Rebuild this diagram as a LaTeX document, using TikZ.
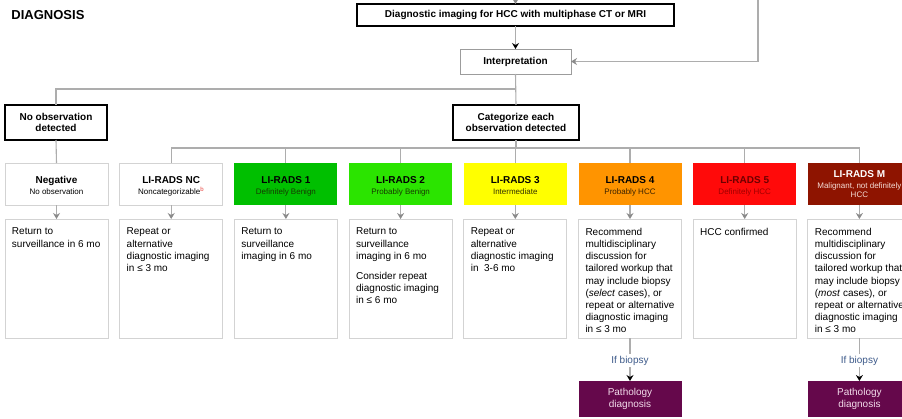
\documentclass[tikz,border=0pt]{standalone}
\usepackage{fontspec}
\setmainfont{Liberation Sans}
\usetikzlibrary{arrows.meta}

\definecolor{connector}{HTML}{ADADAD}
\definecolor{tipgray}{HTML}{8A8A8A}
\definecolor{boxgray}{HTML}{D3D3D3}
\definecolor{interpgray}{HTML}{9C9C9C}
\definecolor{lrone}{HTML}{00BF00}
\definecolor{lrtwo}{HTML}{2BE400}
\definecolor{lrthree}{HTML}{FFFF00}
\definecolor{lrfour}{HTML}{FF9400}
\definecolor{lrfive}{HTML}{FF0A0A}
\definecolor{lrm}{HTML}{8E1400}
\definecolor{patho}{HTML}{65084B}
\definecolor{pathotext}{HTML}{F3DCEB}
\definecolor{biopsyblue}{HTML}{3D5A8A}
\definecolor{fivetitle}{HTML}{6E0000}
\definecolor{fivesub}{HTML}{A00000}
\definecolor{notered}{HTML}{E8413C}
\definecolor{greensub}{HTML}{163A00}
\definecolor{yellowsub}{HTML}{333300}
\definecolor{orangesub}{HTML}{3A2200}
\definecolor{msub}{HTML}{F5DDD6}

\tikzset{
  every node/.style={inner sep=0pt, outer sep=0pt},
  keybox/.style={draw=black, line width=1.6pt, fill=white, align=center,
    anchor=north west, font=\bfseries\fontsize{10}{11.7}\selectfont},
  graybox/.style={draw=boxgray, line width=0.9pt, fill=white},
  catbox/.style={minimum width=103pt, minimum height=42pt, anchor=north west},
  resultbox/.style={graybox, minimum width=103pt, minimum height=119pt, anchor=north west},
  ttl/.style={anchor=base, font=\bfseries\fontsize{10}{11}\selectfont},
  subttl/.style={anchor=base, font=\fontsize{8}{9.4}\selectfont},
  body/.style={anchor=north west, align=left, font=\fontsize{10}{12.2}\selectfont,
    xshift=7pt, yshift=-9pt},
  conn/.style={draw=connector, line width=1.1pt},
  gtip/.style={conn, -{Stealth[length=6pt, width=7pt, inset=2pt, color=tipgray]}},
  ktip/.style={conn, -{Stealth[length=6pt, width=7pt, inset=2pt, color=black]}},
  biopsy/.style={font=\fontsize{10}{12}\selectfont, text=biopsyblue, inner sep=2pt},
  pathbox/.style={fill=patho, minimum width=103pt, minimum height=36pt, anchor=north west,
    text=pathotext, align=center, font=\fontsize{10}{11.5}\selectfont},
}

\begin{document}
\begin{tikzpicture}[x=1pt, y=-1pt]
\useasboundingbox (0,0) rectangle (902,418);
\clip (0,0) rectangle (902,418);
\fill[white] (0,0) rectangle (902,418);

% heading
\node[anchor=base west, font=\bfseries\fontsize{13}{15}\selectfont] (heading) at (11.5,19) {DIAGNOSIS};

% imaging and interpretation
\node[keybox, minimum width=317pt, minimum height=22pt] (img) at (357,4)
  {Diagnostic imaging for HCC with multiphase CT or MRI};
\node[draw=interpgray, line width=0.8pt, fill=white, anchor=north west,
  minimum width=111pt, minimum height=25pt, font=\bfseries\fontsize{10}{12}\selectfont]
  (interp) at (460,49) {Interpretation};

\coordinate (entry) at (515.5,-9);
\coordinate (loop) at (758,-3);
\draw[gtip] (entry) -- (img.north);
\draw[ktip] (img.south) -- (interp.north);
\draw[gtip] (loop) |- (interp.east);

% first split
\node[keybox, minimum width=102pt, minimum height=35pt] (noobs) at (5,105)
  {No observation\\detected};
\node[keybox, minimum width=126pt, minimum height=35pt] (cat) at (453,105)
  {Categorize each\\observation detected};

\coordinate (split) at (515.5,89);
\draw[conn] (interp.south) -- (cat.north);
\draw[conn] (noobs.north) |- (split);

% category boxes
\node[catbox, graybox] (neg) at (5,163) {};
\node[catbox, graybox] (nc) at (119.7,163) {};
\node[catbox, fill=lrone] (l1) at (234.4,163) {};
\node[catbox, fill=lrtwo] (l2) at (349.1,163) {};
\node[catbox, fill=lrthree] (l3) at (463.8,163) {};
\node[catbox, fill=lrfour] (l4) at (578.5,163) {};
\node[catbox, fill=lrfive] (l5) at (693.2,163) {};
\node[catbox, fill=lrm] (lm) at (807.9,163) {};

\node[ttl, yshift=-20.3pt] (negt) at (neg.north) {Negative};
\node[subttl, yshift=-31.5pt] (negs) at (neg.north) {No observation};
\node[ttl, yshift=-20.3pt] (nct) at (nc.north) {LI-RADS NC};
\node[subttl, yshift=-31.5pt] (ncs) at (nc.north)
  {Noncategorizable\textsuperscript{\textcolor{notered}{b}}};
\node[ttl, yshift=-20.3pt] (l1t) at (l1.north) {LI-RADS 1};
\node[subttl, yshift=-31.5pt, text=greensub] (l1s) at (l1.north) {Definitely Benign};
\node[ttl, yshift=-20.3pt] (l2t) at (l2.north) {LI-RADS 2};
\node[subttl, yshift=-31.5pt, text=greensub] (l2s) at (l2.north) {Probably Benign};
\node[ttl, yshift=-20.3pt] (l3t) at (l3.north) {LI-RADS 3};
\node[subttl, yshift=-31.5pt, text=yellowsub] (l3s) at (l3.north) {Intermediate};
\node[ttl, yshift=-20.3pt] (l4t) at (l4.north) {LI-RADS 4};
\node[subttl, yshift=-31.5pt, text=orangesub] (l4s) at (l4.north) {Probably HCC};
\node[ttl, yshift=-20.3pt, text=fivetitle] (l5t) at (l5.north) {LI-RADS 5};
\node[subttl, yshift=-31.5pt, text=fivesub] (l5s) at (l5.north) {Definitely HCC};
\node[ttl, yshift=-14.6pt, text=white] (lmt) at (lm.north) {LI-RADS M};
\node[subttl, yshift=-25.5pt, text=msub] (lms) at (lm.north) {Malignant, not definitely};
\node[subttl, yshift=-34.9pt, text=msub] (lms2) at (lm.north) {HCC};

% connectors into the categories
\coordinate (bus) at (516,148);
\draw[conn] (noobs.south) -- (neg.north);
\draw[conn] (cat.south) -- (bus);
\foreach \b in {nc,l1,l2,l3,l4,l5,lm} {
  \draw[conn] (\b.north) |- (bus);
}

% management boxes
\node[resultbox] (r0) at (5,219) {};
\node[resultbox] (r1) at (119.7,219) {};
\node[resultbox] (r2) at (234.4,219) {};
\node[resultbox] (r3) at (349.1,219) {};
\node[resultbox] (r4) at (463.8,219) {};
\node[resultbox] (r5) at (578.5,219) {};
\node[resultbox] (r6) at (693.2,219) {};
\node[resultbox] (r7) at (807.9,219) {};

\draw[gtip] (neg.south) -- (r0.north);
\draw[gtip] (nc.south) -- (r1.north);
\draw[gtip] (l1.south) -- (r2.north);
\draw[gtip] (l2.south) -- (r3.north);
\draw[gtip] (l3.south) -- (r4.north);
\draw[gtip] (l4.south) -- (r5.north);
\draw[gtip] (l5.south) -- (r6.north);
\draw[gtip] (lm.south) -- (r7.north);

\node[body] (t0) at (r0.north west) {Return to\\surveillance in 6 mo};
\node[body] (t1) at (r1.north west) {Repeat or\\alternative\\diagnostic imaging\\in ≤ 3 mo};
\node[body] (t2) at (r2.north west) {Return to\\surveillance\\imaging in 6 mo};
\node[body] (t3) at (r3.north west)
  {Return to\\surveillance\\imaging in 6 mo\\[7.8pt]Consider repeat\\diagnostic imaging\\in ≤ 6 mo};
\node[body] (t4) at (r4.north west) {Repeat or\\alternative\\diagnostic imaging\\in\ \ 3-6 mo};
\node[body] (t5) at (r5.north west)
  {Recommend\\multidisciplinary\\discussion for\\tailored workup that\\may include biopsy\\(\textit{select} cases), or\\repeat or alternative\\diagnostic imaging\\in ≤ 3 mo};
\node[body] (t6) at (r6.north west) {HCC confirmed};
\node[body] (t7) at (r7.north west)
  {Recommend\\multidisciplinary\\discussion for\\tailored workup that\\may include biopsy\\(\textit{most} cases), or\\repeat or alternative\\diagnostic imaging\\in ≤ 3 mo};

% biopsy branches
\node[biopsy] (ib4) at (630,360.5) {If biopsy};
\node[biopsy] (ib7) at (859.4,360.5) {If biopsy};
\node[pathbox] (p4) at (578.5,381) {Pathology\\diagnosis};
\node[pathbox] (p7) at (807.9,381) {Pathology\\diagnosis};

\draw[conn] (r5.south) -- (ib4.north);
\draw[ktip] (ib4.south) -- (p4.north);
\draw[conn] (r7.south) -- (ib7.north);
\draw[ktip] (ib7.south) -- (p7.north);
\end{tikzpicture}
\end{document}
